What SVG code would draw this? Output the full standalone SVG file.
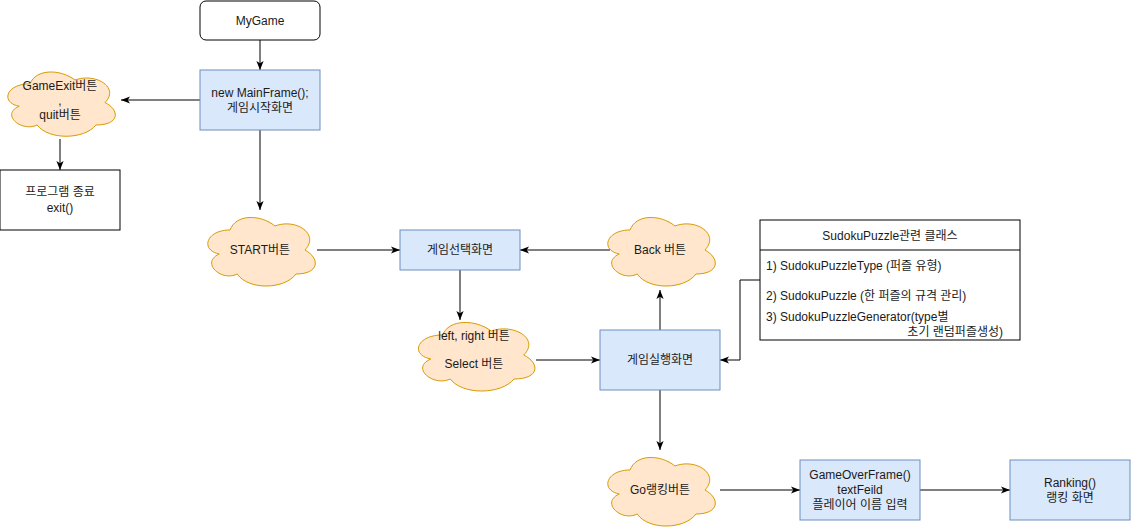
<svg xmlns="http://www.w3.org/2000/svg" width="1131" height="531" viewBox="0 0 1131 531">
<style>
text{font-family:"Liberation Sans","Noto Sans CJK KR",sans-serif;font-size:12px;fill:#1a1a1a;text-anchor:middle;dominant-baseline:central}
.l{text-anchor:start}
.r{text-anchor:end}
.blue{fill:#dae8fc;stroke:#6c8ebf;stroke-width:1}
.cloud{fill:#ffe6cc;stroke:#d79b00;stroke-width:1}
.plain{fill:#fff;stroke:#000;stroke-width:1}
.edge{fill:none;stroke:#000;stroke-width:1;marker-end:url(#arr)}
</style>
<defs>
<marker id="arr" viewBox="0 0 10 10" refX="10" refY="5" markerWidth="9" markerHeight="9" markerUnits="userSpaceOnUse" orient="auto">
<path d="M0,1 L10,5 L0,9 L2.5,5 Z" fill="#000"/>
</marker>
</defs>
<rect width="1131" height="531" fill="#fff"/>
<g id="connectors">
<path class="edge" d="M260,40 V70"/>
<path class="edge" d="M200,100 H121"/>
<path class="edge" d="M60,139 V170"/>
<path class="edge" d="M260,130 V210"/>
<path class="edge" d="M317,250 H400"/>
<path class="edge" d="M610,250 H520"/>
<path class="edge" d="M460,270 V320"/>
<path class="edge" d="M536,360 H600"/>
<path class="edge" d="M660,330 V290"/>
<path class="edge" d="M760,280 H740 V360 H720"/>
<path class="edge" d="M660,390 V450"/>
<path class="edge" d="M720,490 H800"/>
<path class="edge" d="M920,490 H1010"/>
</g>
<g id="mygame">
<rect class="plain" x="200" y="1" width="120" height="39" rx="6"/>
<text x="260" y="20.5">MyGame</text>
</g>
<g id="mainframe">
<rect class="blue" x="200" y="70" width="120" height="60"/>
<text x="260" y="93">new MainFrame();</text>
<text x="260" y="107.5">게임시작화면</text>
</g>
<g id="gameexit">
<path class="cloud" d="M30,83.75 C6,83.75 0,102.5 19.2,106.25 C0,114.5 21.6,132.5 37.2,125 C48,140 84,140 96,125 C120,125 120,110 105,102.5 C120,87.5 96,72.5 75,80 C60,68.75 36,68.75 30,83.75 Z"/>
<text x="60" y="86">GameExit버튼</text>
<text x="60" y="100.5">,</text>
<text x="60" y="115">quit버튼</text>
</g>
<g id="exit">
<rect class="plain" x="0" y="170" width="120" height="60"/>
<text x="60" y="192">프로그램 종료</text>
<text x="60" y="208">exit()</text>
</g>
<g id="start">
<path class="cloud" d="M230,230 C206,230 200,250 219.2,254 C200,262.8 221.6,282 237.2,274 C248,290 284,290 296,274 C320,274 320,258 305,250 C320,234 296,218 275,226 C260,214 236,214 230,230 Z"/>
<text x="260" y="250">START버튼</text>
</g>
<g id="select-screen">
<rect class="blue" x="400" y="230" width="120" height="40"/>
<text x="460" y="250">게임선택화면</text>
</g>
<g id="back">
<path class="cloud" d="M630,230 C606,230 600,250 619.2,254 C600,262.8 621.6,282 637.2,274 C648,290 684,290 696,274 C720,274 720,258 705,250 C720,234 696,218 675,226 C660,214 636,214 630,230 Z"/>
<text x="660" y="250">Back 버튼</text>
</g>
<g id="leftright">
<path class="cloud" d="M442.5,335 C416.5,335 410,355 430.8,359 C410,367.8 433.4,387 450.3,379 C462,395 501,395 514,379 C540,379 540,363 523.75,355 C540,339 514,323 491.25,331 C475,319 449,319 442.5,335 Z"/>
<text x="474" y="336">left, right 버튼</text>
<text x="474" y="364">Select 버튼</text>
</g>
<g id="play-screen">
<rect class="blue" x="600" y="330" width="120" height="60"/>
<text x="660" y="360">게임실행화면</text>
</g>
<g id="sudoku">
<rect class="plain" x="760" y="220" width="260" height="120"/>
<line x1="760" y1="250" x2="1020" y2="250" stroke="#000"/>
<text x="890" y="236">SudokuPuzzle관련 클래스</text>
<text class="l" x="766" y="266">1) SudokuPuzzleType (퍼즐 유형)</text>
<text class="l" x="766" y="296">2) SudokuPuzzle (한 퍼즐의 규격 관리)</text>
<text class="l" x="766" y="317">3) SudokuPuzzleGenerator(type별</text>
<text class="r" x="1003" y="332">초기 랜덤퍼즐생성)</text>
</g>
<g id="goranking">
<path class="cloud" d="M630,470 C606,470 600,490 619.2,494 C600,502.8 621.6,522 637.2,514 C648,530 684,530 696,514 C720,514 720,498 705,490 C720,474 696,458 675,466 C660,454 636,454 630,470 Z"/>
<text x="660" y="490">Go랭킹버튼</text>
</g>
<g id="gameover">
<rect class="blue" x="800" y="460" width="120" height="60"/>
<text x="860" y="475">GameOverFrame()</text>
<text x="860" y="490">textFeild</text>
<text x="860" y="505">플레이어 이름 입력</text>
</g>
<g id="ranking">
<rect class="blue" x="1010" y="460" width="120" height="60"/>
<text x="1070" y="483">Ranking()</text>
<text x="1070" y="497.5">랭킹 화면</text>
</g>
</svg>
